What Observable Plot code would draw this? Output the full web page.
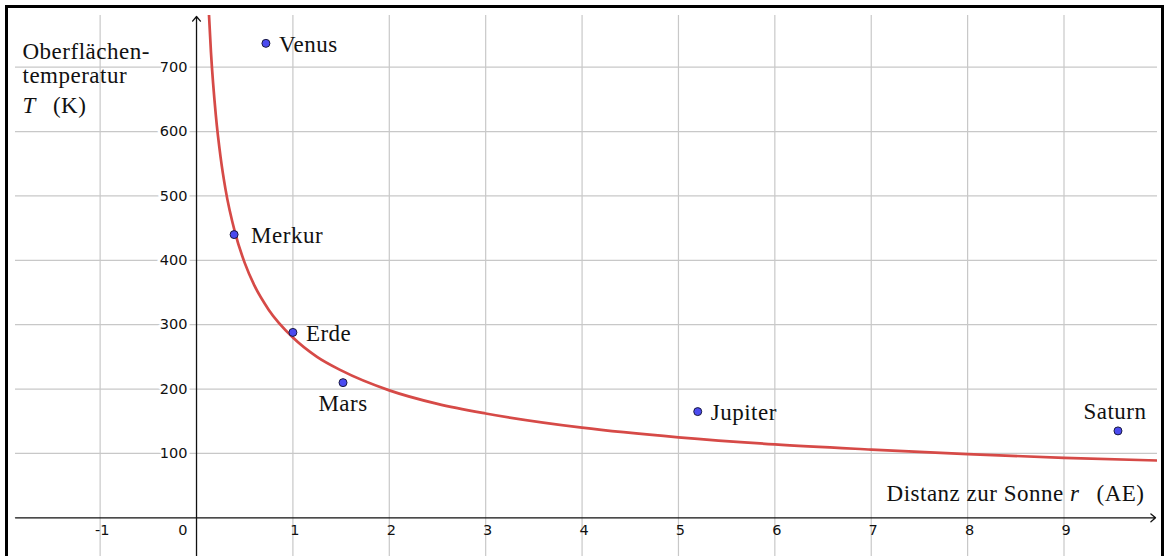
<!DOCTYPE html>
<html>
<head>
<meta charset="utf-8">
<script src="https://cdn.jsdelivr.net/npm/d3@7"></script>
<script src="https://cdn.jsdelivr.net/npm/@observablehq/plot@0.6"></script>
<style>
  html, body { margin: 0; padding: 0; background: #fff; overflow: hidden; }
  #wrap { position: relative; width: 1164px; height: 556px; overflow: hidden; }
  #frame { position: absolute; left: 5px; top: 5px; width: 1153px; height: 600px;
           border: 3px solid #000; border-bottom: none; pointer-events: none; }
  svg { display: block; }
</style>
</head>
<body>
<div id="wrap"><div id="chart"></div><div id="frame"></div></div>
<script>
// Planet data
const planets = ["Merkur", "Venus", "Erde", "Mars", "Jupiter", "Saturn"];
const distAE  = [0.39, 0.72, 1.0, 1.52, 5.2, 9.56];
const tempK   = [440, 737, 288, 210, 165, 135];

// Red curve, points
const curveR = [0.12, 0.15, 0.2, 0.25, 0.3, 0.4, 0.5, 0.6, 0.75, 1, 1.25, 1.5, 2, 2.5, 3, 4, 5, 6, 7, 8, 9, 9.97];
const curveT = [808, 723, 626, 560, 511, 443, 396, 361, 323, 280, 250, 229, 198, 177, 162, 140, 125, 114, 106, 99, 93, 89];

// Ticks and grid
const xGrid = [-1, 1, 2, 3, 4, 5, 6, 7, 8, 9];
const xTickLabels = [-1, 0, 1, 2, 3, 4, 5, 6, 7, 8, 9];
const yGrid = [100, 200, 300, 400, 500, 600, 700];

// Titles
const yTitleLines = ["Oberflächen-", "temperatur", "T  (K)"];
const xTitle = "Distanz zur Sonne r  (AE)";

const xDomain = [-1.878, 9.97];
const yDomain = [-60.1, 780.3];

const planetTable = planets.map((name, i) => ({name, r: distAE[i], t: tempK[i]}));
const curveTable = curveR.map((r, i) => ({r, t: curveT[i]}));

const rightSide = planetTable.filter(d => d.name !== "Mars" && d.name !== "Saturn" && d.name !== "Merkur");
const merkur = planetTable.filter(d => d.name === "Merkur");
const below = planetTable.filter(d => d.name === "Mars");
const above = planetTable.filter(d => d.name === "Saturn");

const serif = "'Liberation Serif', 'Times New Roman', serif";
const sans = "'DejaVu Sans', Verdana, sans-serif";
const labelFont = {fontFamily: serif, fontSize: 23, fill: "#111"};
const tickFont = {fontFamily: sans, fontSize: 14.5, fill: "#111"};

const chart = Plot.plot({
  width: 1164,
  height: 556,
  marginLeft: 15,
  marginTop: 15,
  marginRight: 7,
  marginBottom: 0,
  x: {domain: xDomain, axis: null},
  y: {domain: yDomain, axis: null},
  marks: [
    Plot.ruleX(xGrid, {stroke: "#c8c8c8", strokeWidth: 1.2}),
    Plot.ruleY(yGrid, {stroke: "#c8c8c8", strokeWidth: 1.2}),
    Plot.arrow([0], {x1: xDomain[0], x2: xDomain[1] - 0.02, y1: 0, y2: 0,
      stroke: "#111", strokeWidth: 1.3, headLength: 7, headAngle: 80}),
    Plot.arrow([0], {x1: 0, x2: 0, y1: yDomain[0], y2: yDomain[1] - 1.5,
      stroke: "#111", strokeWidth: 1.3, headLength: 7, headAngle: 80}),
    // tick labels
    Plot.text(yGrid, {x: 0, y: d => d, text: d => String(d), textAnchor: "end", dx: -9,
      ...tickFont, stroke: "white", strokeWidth: 6, paintOrder: "stroke"}),
    Plot.text(xTickLabels.filter(d => d !== 0), {x: d => d, y: 0, text: d => String(d), textAnchor: "middle", dx: 2, dy: 13, ...tickFont}),
    Plot.text(xTickLabels.filter(d => d === 0), {x: d => d, y: 0, text: d => String(d), textAnchor: "end", dx: -9, dy: 13, ...tickFont}),
    // curve
    Plot.line(curveTable, {x: "r", y: "t", curve: "monotone-x", stroke: "#d64a47", strokeWidth: 2.7, clip: true}),
    // planets
    Plot.dot(planetTable, {x: "r", y: "t", r: 4, fill: "#4b4bf0", stroke: "#1a1a40", strokeWidth: 1}),
    Plot.text(rightSide, {x: "r", y: "t", text: "name", textAnchor: "start", dx: 13, dy: 1, ...labelFont}),
    Plot.text(merkur, {x: "r", y: "t", text: "name", textAnchor: "start", dx: 17, dy: 1, ...labelFont}),
    Plot.text(below, {x: "r", y: "t", text: "name", textAnchor: "middle", dy: 21, ...labelFont}),
    Plot.text(above, {x: "r", y: "t", text: "name", textAnchor: "middle", dx: -3, dy: -19, ...labelFont}),
    // axis titles
    Plot.text([yTitleLines[0]], {frameAnchor: "top-left", text: d => d, textAnchor: "start", lineAnchor: "bottom", dx: 7, dy: 43, ...labelFont}),
    Plot.text([yTitleLines[1]], {frameAnchor: "top-left", text: d => d, textAnchor: "start", lineAnchor: "bottom", dx: 7, dy: 67, ...labelFont}),
    Plot.text([yTitleLines[2]], {frameAnchor: "top-left", text: d => d, textAnchor: "start", lineAnchor: "bottom", dx: 7, dy: 97, ...labelFont}),
    Plot.text([xTitle], {frameAnchor: "bottom-right", text: d => d, textAnchor: "end", lineAnchor: "bottom", dx: -13, dy: -56, ...labelFont})
  ]
});

document.getElementById("chart").appendChild(chart);

// Slightly wider serif lettering, like the reference's TeX font
chart.querySelectorAll("text").forEach(t => {
  if (t.getAttribute("font-family") === serif || (t.parentNode && t.parentNode.getAttribute && t.parentNode.getAttribute("font-family") === serif)) {
    t.setAttribute("letter-spacing", "0.5");
  }
});

// Italic math letters inside titles
chart.querySelectorAll("text").forEach(t => {
  const s = t.textContent;
  if (s === yTitleLines[2]) {
    t.textContent = "";
    const it = document.createElementNS("http://www.w3.org/2000/svg", "tspan");
    it.setAttribute("font-style", "italic");
    it.textContent = "T";
    t.appendChild(it);
    t.appendChild(document.createTextNode("\u2002\u2009(K)"));
  } else if (s === xTitle) {
    t.textContent = "";
    t.appendChild(document.createTextNode("Distanz zur Sonne "));
    const it = document.createElementNS("http://www.w3.org/2000/svg", "tspan");
    it.setAttribute("font-style", "italic");
    it.textContent = "r";
    t.appendChild(it);
    t.appendChild(document.createTextNode("\u2002\u2009(AE)"));
  }
});
</script>
</body>
</html>
